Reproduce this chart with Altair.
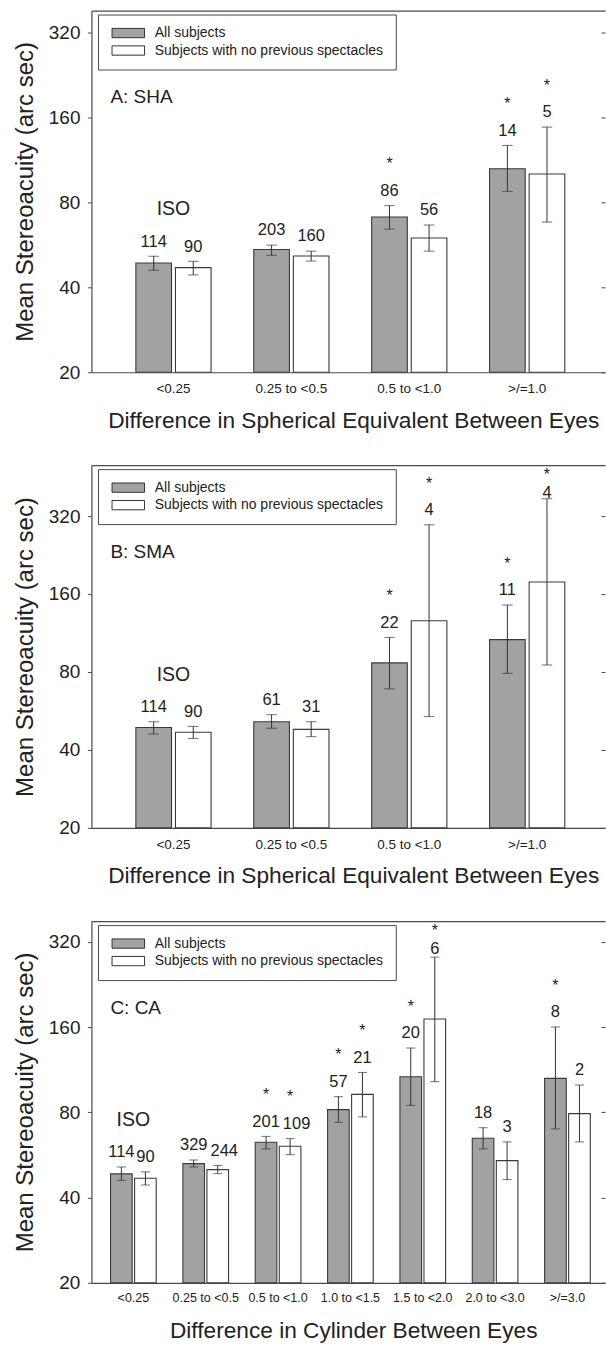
import altair as alt
import pandas as pd
import math

FONT = "Liberation Sans, Arial, sans-serif"
SERIES = ["All subjects", "Subjects with no previous spectacles"]
Y_TICKS = [20, 40, 80, 160, 320]
Y_TITLE = "Mean Stereoacuity (arc sec)"

# ---------------- Panel A: SHA ----------------
A_CATS = ["<0.25", "0.25 to <0.5", "0.5 to <1.0", ">/=1.0"]
A_ALL_MEAN = [48.8, 54.5, 71.1, 105.5]
A_ALL_LO = [46.0, 52.0, 64.4, 87.7]
A_ALL_HI = [51.6, 56.5, 78.0, 127.6]
A_ALL_N = [114, 203, 86, 14]
A_ALL_SIG = [False, False, True, True]
A_NEW_MEAN = [47.0, 51.7, 59.9, 101.0]
A_NEW_LO = [44.3, 49.6, 53.8, 68.2]
A_NEW_HI = [49.5, 53.8, 66.6, 148.2]
A_NEW_N = [90, 160, 56, 5]
A_NEW_SIG = [False, False, False, True]

# ---------------- Panel B: SMA ----------------
B_CATS = ["<0.25", "0.25 to <0.5", "0.5 to <1.0", ">/=1.0"]
B_ALL_MEAN = [48.8, 51.4, 86.7, 106.6]
B_ALL_LO = [46.1, 48.5, 68.8, 79.0]
B_ALL_HI = [51.4, 54.7, 108.8, 145.1]
B_ALL_N = [114, 61, 22, 11]
B_ALL_SIG = [False, False, True, True]
B_NEW_MEAN = [46.8, 48.0, 126.2, 178.0]
B_NEW_LO = [44.3, 45.0, 53.8, 85.1]
B_NEW_HI = [49.3, 51.4, 296.0, 373.2]
B_NEW_N = [90, 31, 4, 4]
B_NEW_SIG = [False, False, True, True]

# ---------------- Panel C: CA ----------------
C_CATS = ["<0.25", "0.25 to <0.5", "0.5 to <1.0", "1.0 to <1.5",
          "1.5 to <2.0", "2.0 to <3.0", ">/=3.0"]
C_ALL_MEAN = [48.5, 52.7, 62.7, 81.8, 106.9, 64.8, 105.5]
C_ALL_LO = [46.0, 51.3, 59.4, 73.8, 84.7, 59.4, 69.9]
C_ALL_HI = [51.3, 54.3, 65.8, 90.9, 135.0, 70.6, 160.2]
C_ALL_N = [114, 329, 201, 57, 20, 18, 8]
C_ALL_SIG = [False, False, True, True, True, False, True]
C_NEW_MEAN = [46.8, 50.2, 60.7, 92.6, 170.9, 54.0, 79.2]
C_NEW_LO = [44.3, 48.6, 56.7, 77.1, 102.7, 46.3, 62.9]
C_NEW_HI = [49.3, 51.9, 64.6, 110.7, 282.8, 62.9, 99.9]
C_NEW_N = [90, 244, 109, 21, 6, 3, 2]
C_NEW_SIG = [False, False, True, True, True, False, False]


def make_df(cats, groups):
    rows = []
    for i, c in enumerate(cats):
        for s, (mean, lo, hi, n, sig) in zip(SERIES, groups):
            rows.append({
                "cat": c, "series": s, "mean": mean[i], "lo": lo[i], "hi": hi[i],
                "n": str(n[i]), "star": "*" if sig[i] else "",
                "first": i == 0,
            })
    return pd.DataFrame(rows)


DF_A = make_df(A_CATS, [(A_ALL_MEAN, A_ALL_LO, A_ALL_HI, A_ALL_N, A_ALL_SIG),
                        (A_NEW_MEAN, A_NEW_LO, A_NEW_HI, A_NEW_N, A_NEW_SIG)])
DF_B = make_df(B_CATS, [(B_ALL_MEAN, B_ALL_LO, B_ALL_HI, B_ALL_N, B_ALL_SIG),
                        (B_NEW_MEAN, B_NEW_LO, B_NEW_HI, B_NEW_N, B_NEW_SIG)])
DF_C = make_df(C_CATS, [(C_ALL_MEAN, C_ALL_LO, C_ALL_HI, C_ALL_N, C_ALL_SIG),
                        (C_NEW_MEAN, C_NEW_LO, C_NEW_HI, C_NEW_N, C_NEW_SIG)])

W = 514
INK = "#222222"
LINE = "#4a4a4a"
COUNT_DY = -9.7
STAR_DY = -36.3
STAR_ROOM = 51.0   # px the star anchor must stay below the frame top
COUNT_ROOM = 42.5  # px the count anchor must stay below the frame top


def panel(df, cats, label, xtitle, top, height, p_in, p_out, align,
          cat_font, cat_pad, cap, wide_shift):
    x_scale = alt.Scale(domain=cats, paddingInner=p_in, paddingOuter=p_out, align=align)
    xo_scale = alt.Scale(domain=SERIES, paddingInner=0.1, paddingOuter=0)
    y_scale = alt.Scale(type="log", domain=[20, top], nice=False)
    # keep annotations inside the frame: highest anchor values in data units
    px_per_doubling = height / math.log2(top / 20)
    star_cap = top * 2 ** (-STAR_ROOM / px_per_doubling)
    count_cap = top * 2 ** (-COUNT_ROOM / px_per_doubling)

    base = alt.Chart(df)
    xo = alt.XOffset("series:N", scale=xo_scale, sort=SERIES)

    def xenc(axis=None):
        return alt.X("cat:N", scale=x_scale, sort=cats, axis=axis)

    x_axis = alt.Axis(orient="bottom", title=xtitle, labelAngle=0, ticks=False,
                      tickSize=0, labelPadding=cat_pad, labelBaseline="alphabetic",
                      labelFontSize=cat_font, labelFont=FONT, labelColor=INK,
                      domainColor=LINE, domainWidth=1.2,
                      titleFontSize=22.7, titleFont=FONT, titleFontWeight="normal",
                      titleColor=INK, titleX=262, titleY=55, titleBaseline="alphabetic")
    y_axis = alt.Axis(orient="left", values=Y_TICKS, format="d", title=Y_TITLE,
                      grid=False, tickSize=4, tickColor=LINE, domainColor=LINE,
                      domainWidth=1.2, labelPadding=7.5, labelFontSize=19,
                      labelFont=FONT, labelColor=INK,
                      titleFontSize=24, titleFont=FONT, titleFontWeight="normal",
                      titleColor=INK, titleX=-66, titleBaseline="middle")
    top_axis = alt.Axis(orient="top", labels=False, ticks=False, title=None,
                        domainColor=LINE, domainWidth=1.2)
    right_axis = alt.Axis(orient="right", values=Y_TICKS, labels=False, domain=False,
                          ticks=True, tickSize=4, tickColor=LINE, title=None,
                          grid=False, offset=-4)

    legend = alt.Legend(title=None, orient="none", legendX=6.6, legendY=4,
                        direction="vertical", symbolType="M-3.5,-1H3.5V1H-3.5Z",
                        symbolSize=86.5, symbolStrokeColor="#333333",
                        symbolStrokeWidth=1, symbolOffset=11.8, labelOffset=19.5,
                        labelFontSize=14, labelFont=FONT, labelColor=INK,
                        labelLimit=400, padding=11.5, rowPadding=3.5,
                        strokeColor=LINE, fillColor="white", cornerRadius=0)

    bars = base.mark_bar(stroke="#3a3a3a", strokeWidth=1.1).encode(
        x=xenc(x_axis), xOffset=xo,
        y=alt.Y("mean:Q", scale=y_scale, axis=y_axis),
        y2=alt.datum(20),
        color=alt.Color("series:N", scale=alt.Scale(domain=SERIES,
                        range=["#a2a2a2", "#ffffff"]), legend=legend),
    )
    err = base.mark_rule(color="#333333", strokeWidth=1).encode(
        x=xenc(top_axis), xOffset=xo,
        y=alt.Y("lo:Q", scale=y_scale, axis=right_axis), y2="hi:Q",
    )
    cap_hi = base.mark_tick(color="#333333", thickness=1, size=cap).encode(
        x=xenc(), xOffset=xo, y=alt.Y("hi:Q", scale=y_scale, axis=None))
    cap_lo = base.mark_tick(color="#333333", thickness=1, size=cap).encode(
        x=xenc(), xOffset=xo, y=alt.Y("lo:Q", scale=y_scale, axis=None))

    count_base = base.transform_calculate(count_y=f"min(datum.hi, {count_cap:.3f})")
    count_enc = dict(x=xenc(), xOffset=xo,
                     y=alt.Y("count_y:Q", scale=y_scale, axis=None), text="n:N")
    text_style = dict(baseline="alphabetic", fontSize=16.5, font=FONT, color=INK)
    shifted = ("length(datum.n) >= 3 && datum.series == '" + SERIES[1] + "'")
    if wide_shift:
        counts_plain = count_base.transform_filter("!(" + shifted + ")").mark_text(
            dy=COUNT_DY, **text_style).encode(**count_enc)
        counts_wide = count_base.transform_filter(shifted).mark_text(
            dy=COUNT_DY, dx=wide_shift, **text_style).encode(**count_enc)
        count_layers = [counts_plain, counts_wide]
    else:
        count_layers = [count_base.mark_text(dy=COUNT_DY, **text_style).encode(**count_enc)]

    stars = base.transform_filter("datum.star == '*'").transform_calculate(
        star_y=f"min(datum.hi, {star_cap:.3f})").mark_text(
        dy=STAR_DY, baseline="alphabetic", fontSize=16, font=FONT, color=INK).encode(
        x=xenc(), xOffset=xo, y=alt.Y("star_y:Q", scale=y_scale, axis=None),
        text="star:N")
    iso = base.transform_filter(
        "datum.first && datum.series == 'All subjects'").mark_text(
        dy=-41, baseline="alphabetic", fontSize=19.5, font=FONT, color=INK).encode(
        x=xenc(), y=alt.Y("hi:Q", scale=y_scale, axis=None), text=alt.value("ISO"))
    tag = alt.Chart(pd.DataFrame({"label": [label]})).mark_text(
        align="left", baseline="alphabetic", fontSize=19, font=FONT, color=INK).encode(
        x=alt.value(19), y=alt.value(93), text="label:N")

    return alt.layer(bars, err, cap_hi, cap_lo, *count_layers, stars, iso, tag).properties(
        width=W, height=height)


pA = panel(DF_A, A_CATS, "A: SHA", "Difference in Spherical Equivalent Between Eyes",
           384, 362, 0.362, 0.359, 0.525, 13.5, 20.5, 10.5, 0)
pB = panel(DF_B, B_CATS, "B: SMA", "Difference in Spherical Equivalent Between Eyes",
           503, 363, 0.362, 0.359, 0.525, 13.5, 20.5, 10.5, 0)
pC = panel(DF_C, C_CATS, "C: CA", "Difference in Cylinder Between Eyes",
           379, 362, 0.369, 0.234, 0.565, 12.5, 18.5, 9, 6.5)

upper = alt.vconcat(pA, pB, spacing=33).resolve_scale(
    color="independent", xOffset="independent")
chart = alt.vconcat(upper, pC, spacing=33.3).resolve_scale(
    color="independent", xOffset="independent").properties(
    padding={"left": 13.5, "top": 10, "right": 0, "bottom": 0},
    background="white",
).configure_view(stroke=None)

chart.save("out.html", embed_options={"renderer": "svg", "actions": False})
